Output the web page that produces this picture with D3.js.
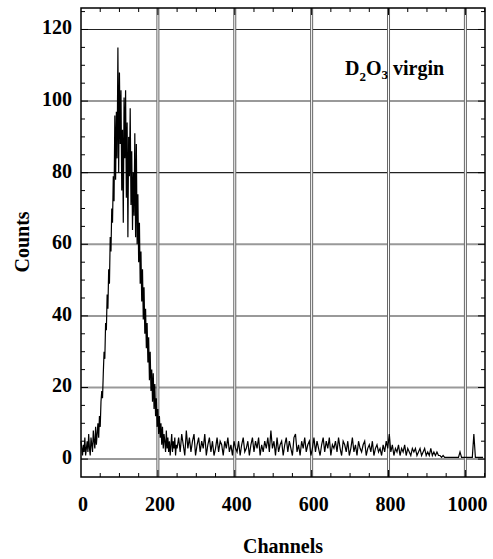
<!DOCTYPE html>
<html>
<head>
<meta charset="utf-8">
<script src="https://cdn.jsdelivr.net/npm/d3@7"></script>
<style>
  body { margin: 0; background: #fff; }
  text { font-family: "Liberation Serif", "Times New Roman", serif; font-weight: bold; }
</style>
</head>
<body>
<div id="chart"></div>
<script>
// Peak region: channels 0..248, one value every 2 channels
const peakStart = 0, peakStep = 2;
const peakCounts = [
  5, 3, 1, 4, 2, 6, 1, 3, 5, 2, 7, 3, 1, 6, 4,   // 0-28
  2, 8, 5, 3, 9, 4, 7, 10, 6, 12,                // 30-48
  9, 16, 19, 17, 24, 30, 28, 38, 36, 46,         // 50-68
  42, 53, 49, 62, 58, 70, 66, 79, 72, 96,        // 70-88
  78, 97, 84, 115, 80, 108, 88, 103, 75, 92,     // 90-108
  66, 101, 84, 103, 73, 94, 62, 90, 79, 98,      // 110-128
  71, 86, 64, 80, 68, 91, 62, 88, 60, 74,        // 130-148
  55, 66, 49, 58, 44, 53, 39, 48, 35, 42,        // 150-168
  31, 38, 27, 34, 22, 30, 19, 25, 16, 24,        // 170-188
  14, 21, 12, 17, 9, 14, 7, 12, 6, 10,           // 190-208
  4, 9, 3, 7, 5, 2, 8, 3, 6, 2,                  // 210-228
  5, 1, 4, 7, 2, 5, 3, 6, 1, 4                   // 230-248
];

// Tail region: channels 250..1046, one value every 4 channels
const tailStart = 250, tailStep = 4;
const tailCounts = [
  3, 6, 2, 7, 4, 1, 8, 3, 6, 2,      // 250-286
  5, 7, 1, 4, 6, 2, 5, 3, 7, 1,      // 290-326
  4, 6, 2, 5, 1, 3, 6, 2, 5, 4,
  1, 5, 3, 6, 2, 4, 1, 5, 3, 2,
  5, 1, 4, 6, 2, 3, 5, 1, 4, 6,
  2, 5, 3, 6, 1, 4, 2, 5, 3, 6,      // 450-486
  2, 8, 3, 5, 1, 6, 2, 4, 5, 1,
  4, 6, 2, 5, 3, 1, 6, 7, 2, 4,
  1, 5, 3, 6, 2, 4, 5, 1, 3, 6,
  2, 5, 3, 1, 4, 6, 2, 5, 3, 6,
  1, 4, 3, 5, 2, 6, 3, 1, 5, 4,      // 650-686
  2, 5, 1, 3, 6, 2, 4, 1, 5, 3,
  2, 4, 5, 1, 3, 4, 2, 5, 1, 3,
  4, 2, 3, 1, 4, 2, 5, 3, 7, 2,
  4, 1, 3, 2, 4, 1, 3, 2, 4, 1,
  3, 2, 1, 3, 2, 3, 1, 2, 3, 1,      // 850-886
  2, 3, 1, 2, 1, 3, 1, 2, 1, 2,
  1, 1, 0.5, 1, 0.5, 0.5, 0.5, 0.5, 0.5, 0.5,
  0.5, 0.5, 0.5, 0.5, 2, 0.5, 0.5, 0.5, 0.5, 0.5,
  0.5, 0.5, 0.5, 7, 0.5, 0.5, 0.5, 0.5, 0.5, 0.5  // 1010-1046
];

const xTicks = [0, 200, 400, 600, 800, 1000];
const yTicks = [0, 20, 40, 60, 80, 100, 120];
const xTitle = "Channels";
const yTitle = "Counts";

const width = 493, height = 559;
const plot = {left: 81, right: 485, top: 8, bottom: 477};

const spectrum = peakCounts.map((v, i) => ({ch: peakStart + i * peakStep, v: v}))
  .concat(tailCounts.map((v, i) => ({ch: tailStart + i * tailStep, v: v})));

const svg = d3.select("#chart").append("svg")
  .attr("width", width)
  .attr("height", height);

const x = d3.scaleLinear().domain([0, 1051]).range([plot.left, plot.right]);
const y = d3.scaleLinear().domain([-5, 126]).range([plot.bottom, plot.top]);

// Grid: horizontal grey bands, vertical double lines
const grid = svg.append("g");
grid.selectAll(".hgrid")
  .data(yTicks)
  .enter().append("line")
  .attr("x1", plot.left).attr("x2", plot.right)
  .attr("y1", d => y(d)).attr("y2", d => y(d))
  .attr("stroke", d => (d === 80 || d === 120) ? "#222" : "#999")
  .attr("stroke-width", d => (d === 80 || d === 120) ? 1.2 : 2);

grid.selectAll(".vgrid")
  .data(xTicks.filter(d => d > 0))
  .enter().append("line")
  .attr("x1", d => x(d)).attr("x2", d => x(d))
  .attr("y1", plot.top).attr("y2", plot.bottom)
  .attr("stroke", "#666")
  .attr("stroke-width", 3);
grid.selectAll(".vgridc")
  .data(xTicks.filter(d => d > 0))
  .enter().append("line")
  .attr("x1", d => x(d)).attr("x2", d => x(d))
  .attr("y1", plot.top).attr("y2", plot.bottom)
  .attr("stroke", "#fff")
  .attr("stroke-width", 1);

// Spectrum trace
const line = d3.line()
  .x(d => x(d.ch))
  .y(d => y(d.v));

svg.append("path")
  .datum(spectrum)
  .attr("fill", "none")
  .attr("stroke", "#000")
  .attr("stroke-width", 1.2)
  .attr("d", line);

// Frame
svg.append("rect")
  .attr("x", plot.left).attr("y", plot.top)
  .attr("width", plot.right - plot.left)
  .attr("height", plot.bottom - plot.top)
  .attr("fill", "none")
  .attr("stroke", "#000")
  .attr("stroke-width", 1.5);

// Inner minor ticks on all four sides
const xMinor = d3.range(50, 1051, 50);
const yMinor = d3.range(0, 126, 5);
const ticks = svg.append("g").attr("stroke", "#000").attr("stroke-width", 1);
ticks.selectAll(".tb")
  .data(xMinor)
  .enter().append("line")
  .attr("x1", d => x(d)).attr("x2", d => x(d))
  .attr("y1", plot.bottom).attr("y2", d => plot.bottom - (d % 200 === 0 ? 7 : 4));
ticks.selectAll(".tt")
  .data(xMinor)
  .enter().append("line")
  .attr("x1", d => x(d)).attr("x2", d => x(d))
  .attr("y1", plot.top).attr("y2", d => plot.top + (d % 200 === 0 ? 7 : 4));
ticks.selectAll(".tl")
  .data(yMinor)
  .enter().append("line")
  .attr("y1", d => y(d)).attr("y2", d => y(d))
  .attr("x1", plot.left).attr("x2", d => plot.left + (d % 20 === 0 ? 7 : 4));
ticks.selectAll(".tr")
  .data(yMinor)
  .enter().append("line")
  .attr("y1", d => y(d)).attr("y2", d => y(d))
  .attr("x1", plot.right).attr("x2", d => plot.right - (d % 20 === 0 ? 7 : 4));

// Tick labels
svg.selectAll(".xl")
  .data(xTicks)
  .enter().append("text")
  .attr("x", d => x(d) + 2)
  .attr("y", 511)
  .attr("text-anchor", "middle")
  .attr("font-size", 20)
  .text(d => d);

svg.selectAll(".yl")
  .data(yTicks)
  .enter().append("text")
  .attr("x", 72)
  .attr("y", d => y(d) + 5)
  .attr("text-anchor", "end")
  .attr("font-size", 20)
  .text(d => d);

// Axis titles
svg.append("text")
  .attr("x", (plot.left + plot.right) / 2)
  .attr("y", 553)
  .attr("text-anchor", "middle")
  .attr("font-size", 20)
  .text(xTitle);

svg.append("text")
  .attr("transform", "translate(29,242) rotate(-90)")
  .attr("text-anchor", "middle")
  .attr("font-size", 20)
  .text(yTitle);

// Sample label
const label = svg.append("text")
  .attr("x", 345)
  .attr("y", 75)
  .attr("font-size", 20);
label.append("tspan").text("D");
label.append("tspan").attr("font-size", 13).attr("dy", 6).text("2");
label.append("tspan").attr("dy", -6).text("O");
label.append("tspan").attr("font-size", 13).attr("dy", 4).text("3");
label.append("tspan").attr("dy", -4).text(" virgin");
</script>
</body>
</html>
